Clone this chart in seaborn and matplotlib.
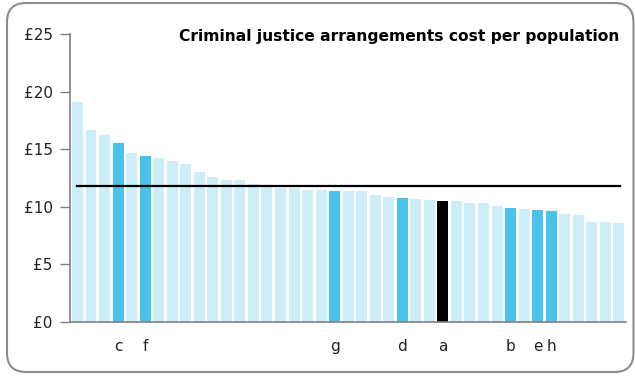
import matplotlib
matplotlib.use("Agg")
import matplotlib.pyplot as plt
from matplotlib.patches import FancyBboxPatch
import seaborn as sns
import pandas as pd

# ---- data ----
values = [19.1, 16.7, 16.2, 15.5, 14.7, 14.4, 14.2, 14.0, 13.7, 13.0,
          12.6, 12.3, 12.3, 11.95, 11.9, 11.6, 11.6, 11.45, 11.45, 11.4,
          11.35, 11.35, 11.0, 10.8, 10.75, 10.65, 10.6, 10.5, 10.5, 10.3,
          10.3, 10.05, 9.85, 9.8, 9.7, 9.6, 9.4, 9.3, 8.7, 8.65, 8.6]
highlight = {3: "c", 5: "f", 19: "g", 24: "d", 27: "a", 32: "b", 34: "e", 35: "h"}
selected = 27          # "a" drawn in black
average = 11.75
title = "Criminal justice arrangements cost per population"
yticks = [0, 5, 10, 15, 20, 25]
ytick_labels = ["£0", "£5", "£10", "£15", "£20", "£25"]

LIGHT = "#CDEDF9"
DARK = "#4AC2EC"
BLACK = "#000000"

plt.rcParams["font.family"] = ["DejaVu Sans"]

df = pd.DataFrame({"idx": list(range(len(values))), "value": values})
colors = []
for i in range(len(values)):
    if i == selected:
        colors.append(BLACK)
    elif i in highlight:
        colors.append(DARK)
    else:
        colors.append(LIGHT)

fig = plt.figure(figsize=(6.35, 3.77), dpi=100)
ax = fig.add_axes([70 / 635, 1 - 321.7 / 377, 556 / 635, (321.7 - 34) / 377])

sns.barplot(data=df, x="idx", y="value", hue="idx", palette=colors,
            legend=False, width=0.81, saturation=1, linewidth=0, ax=ax)

ax.plot([-0.05, 40.05], [average, average], color="black", lw=1.6, zorder=5)

ax.set_xlim(-0.553, 40.53)
ax.set_ylim(0, 25)
ax.set_yticks(yticks)
ax.set_yticklabels(ytick_labels, fontsize=11, color="#222222")
pos = sorted(highlight)
ax.set_xticks(pos)
ax.set_xticklabels([highlight[p] for p in pos], fontsize=11, color="#222222")
ax.tick_params(axis="x", length=0, pad=12.5)
ax.tick_params(axis="y", length=7, width=1, color="#808080", pad=5.5)
ax.set_xlabel("")
ax.set_ylabel("")
for s in ["top", "right"]:
    ax.spines[s].set_visible(False)
for s in ["left", "bottom"]:
    ax.spines[s].set_color("#808080")
    ax.spines[s].set_linewidth(1.2)
ax.set_facecolor("none")

ax.text(0.988, 0.99, title, transform=ax.transAxes, ha="right", va="center",
        fontsize=11.2, fontweight="bold", color="#000000")

frame = FancyBboxPatch((7 / 635, 5 / 377), 626.5 / 635, 369 / 377,
                       boxstyle="round,pad=0,rounding_size=0.03",
                       transform=fig.transFigure, facecolor="none",
                       edgecolor="#8c8c8c", linewidth=1.5, mutation_aspect=635 / 377)
fig.patches.append(frame)

fig.savefig("out.png", dpi=100)
